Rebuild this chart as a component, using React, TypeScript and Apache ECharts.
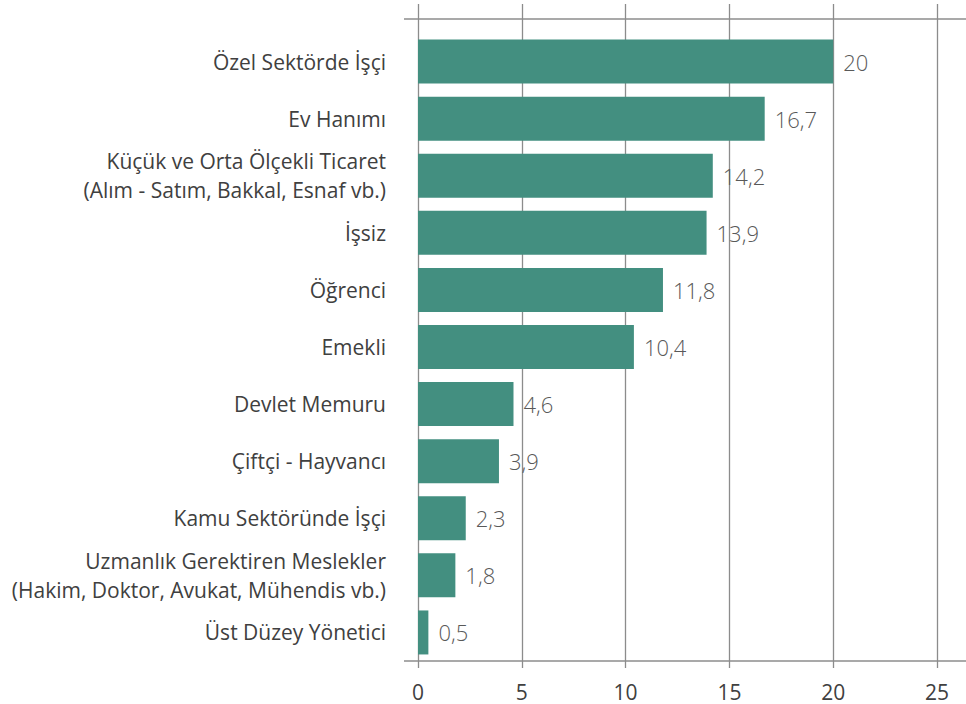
import React, { useEffect, useRef } from "react";
import * as echarts from "echarts";

const categories = [
  "Özel Sektörde İşçi",
  "Ev Hanımı",
  "Küçük ve Orta Ölçekli Ticaret\n(Alım - Satım, Bakkal, Esnaf vb.)",
  "İşsiz",
  "Öğrenci",
  "Emekli",
  "Devlet Memuru",
  "Çiftçi - Hayvancı",
  "Kamu Sektöründe İşçi",
  "Uzmanlık Gerektiren Meslekler\n(Hakim, Doktor, Avukat, Mühendis vb.)",
  "Üst Düzey Yönetici",
];
const values = [20, 16.7, 14.2, 13.9, 11.8, 10.4, 4.6, 3.9, 2.3, 1.8, 0.5];

const FONT = "'Open Sans', 'Noto Sans', sans-serif";

export default function App() {
  const ref = useRef<HTMLDivElement>(null);
  useEffect(() => {
    if (!ref.current) return;
    const chart = echarts.init(ref.current, undefined, { renderer: "svg" });
    const gridLeft = 418;
    const gridRight = 29;
    const lineColor = "#8c8c8c";
    chart.setOption({
      animation: false,
      grid: [
        { left: gridLeft, right: gridRight, top: 19, bottom: 43 },
        { left: gridLeft, right: gridRight, top: 33, bottom: 43 },
      ],
      xAxis: [
        {
          gridIndex: 0,
          type: "value",
          min: 0,
          max: 25,
          interval: 5,
          position: "bottom",
          axisLine: { show: false },
          axisTick: { show: true, length: 7, lineStyle: { color: lineColor, width: 1.3 } },
          splitLine: { show: true, lineStyle: { color: lineColor, width: 1.3 } },
          axisLabel: { color: "#404040", fontSize: 21, fontFamily: FONT, margin: 20 },
        },
        {
          gridIndex: 0,
          type: "value",
          min: 0,
          max: 25,
          interval: 5,
          position: "top",
          axisLine: { show: false },
          axisTick: { show: true, length: 15, lineStyle: { color: lineColor, width: 1.3 } },
          splitLine: { show: false },
          axisLabel: { show: false },
        },
        {
          gridIndex: 1,
          type: "value",
          min: 0,
          max: 25,
          show: false,
        },
      ],
      yAxis: [
        {
          gridIndex: 0,
          type: "category",
          data: categories,
          show: false,
        },
        {
          gridIndex: 1,
          type: "category",
          data: categories,
          inverse: true,
          axisLine: { show: false },
          axisTick: { show: false },
          axisLabel: {
            color: "#404040",
            fontSize: 21,
            fontFamily: FONT,
            margin: 32,
            lineHeight: 29,
            align: "right",
          },
        },
      ],
      graphic: [
        {
          type: "line",
          shape: { x1: 404, y1: 19, x2: 966, y2: 19 },
          style: { stroke: lineColor, lineWidth: 1.3 },
          z: 10,
        },
        {
          type: "line",
          shape: { x1: 404, y1: 661, x2: 966, y2: 661 },
          style: { stroke: lineColor, lineWidth: 1.3 },
          z: 10,
        },
      ],
      series: [
        {
          type: "bar",
          xAxisIndex: 2,
          yAxisIndex: 1,
          data: values,
          barWidth: 44,
          itemStyle: { color: "#438f80" },
          z: 1,
          label: {
            show: true,
            position: "right",
            distance: 10,
            color: "#595959",
            fontSize: 22,
            fontFamily: FONT,
            fontWeight: 300,
            formatter: (p: any) => String(p.value).replace(".", ","),
          },
        },
      ],
    });
    return () => chart.dispose();
  }, []);
  return <div ref={ref} style={{ width: 966, height: 704, position: "absolute", left: 0, top: 0 }} />;
}
